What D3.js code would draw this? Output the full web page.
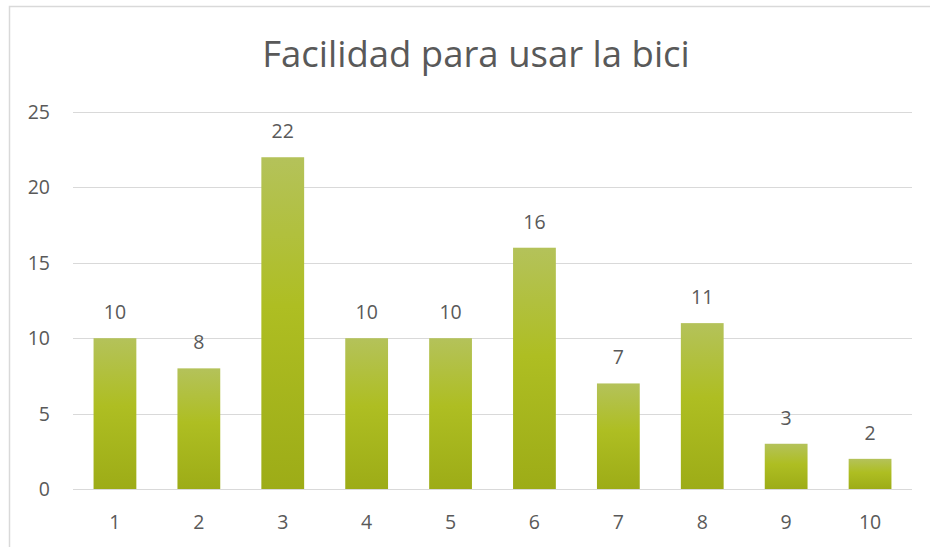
<!DOCTYPE html>
<html>
<head>
<meta charset="utf-8">
<script src="https://cdn.jsdelivr.net/npm/d3@7"></script>
<style>
  body { margin: 0; background: #fff; }
  text { font-family: "Open Sans", "Liberation Sans", sans-serif; fill: #595959; }
</style>
</head>
<body>
<script>
// chart values
var categories = ["1", "2", "3", "4", "5", "6", "7", "8", "9", "10"];
var values = [10, 8, 22, 10, 10, 16, 7, 11, 3, 2];
var yTicks = [0, 5, 10, 15, 20, 25];
var title = "Facilidad para usar la bici";

var W = 930, H = 547;
var margin = { top: 112, right: 18, bottom: 58, left: 73 },
  width = W - margin.left - margin.right,
  height = H - margin.top - margin.bottom;

var svg = d3.select("body").append("svg")
  .attr("width", W)
  .attr("height", H);

// bar gradient
var grad = svg.append("defs").append("linearGradient")
  .attr("id", "barGrad")
  .attr("x1", 0).attr("y1", 0).attr("x2", 0).attr("y2", 1);
grad.append("stop").attr("offset", "0%").attr("stop-color", "#b4c25a");
grad.append("stop").attr("offset", "45%").attr("stop-color", "#aebe22");
grad.append("stop").attr("offset", "100%").attr("stop-color", "#9dac17");

// chart area border
svg.append("rect")
  .attr("x", 9.5).attr("y", 6.5)
  .attr("width", 930).attr("height", 560)
  .attr("fill", "#fff")
  .attr("stroke", "#d9d9d9")
  .attr("stroke-width", 1.5);

var g = svg.append("g")
  .attr("transform", "translate(" + margin.left + "," + margin.top + ")");

var x = d3.scaleBand().domain(categories).range([0, width]).paddingInner(0.49).paddingOuter(0.245);
var y = d3.scaleLinear().domain([0, 25]).range([height, 0]);

// gridlines
g.selectAll(".grid")
  .data(yTicks)
  .enter().append("line")
  .attr("x1", 0).attr("x2", width)
  .attr("y1", function(d) { return Math.round(y(d)) + 0.5; })
  .attr("y2", function(d) { return Math.round(y(d)) + 0.5; })
  .attr("stroke", "#d9d9d9")
  .attr("stroke-width", 1.2);

// y axis labels
g.selectAll(".ylab")
  .data(yTicks)
  .enter().append("text")
  .attr("x", -23)
  .attr("y", function(d) { return y(d); })
  .attr("dy", "0.36em")
  .attr("text-anchor", "end")
  .style("font-size", "19.5px")
  .text(function(d) { return d; });

// bars
g.selectAll(".bar")
  .data(values)
  .enter().append("rect")
  .attr("x", function(d, i) { return x(categories[i]); })
  .attr("width", x.bandwidth())
  .attr("y", function(d) { return y(d); })
  .attr("height", function(d) { return height - y(d); })
  .attr("fill", "url(#barGrad)");

// data labels
g.selectAll(".dlab")
  .data(values)
  .enter().append("text")
  .attr("x", function(d, i) { return x(categories[i]) + x.bandwidth() / 2; })
  .attr("y", function(d) { return y(d) - 19; })
  .attr("text-anchor", "middle")
  .style("font-size", "19.5px")
  .text(function(d) { return d; });

// x axis labels
g.selectAll(".xlab")
  .data(categories)
  .enter().append("text")
  .attr("x", function(d) { return x(d) + x.bandwidth() / 2; })
  .attr("y", height + 40)
  .attr("text-anchor", "middle")
  .style("font-size", "19.5px")
  .text(function(d) { return d; });

// title
svg.append("text")
  .attr("x", 476)
  .attr("y", 67)
  .attr("text-anchor", "middle")
  .style("font-size", "36.5px")
  .text(title);
</script>
</body>
</html>
